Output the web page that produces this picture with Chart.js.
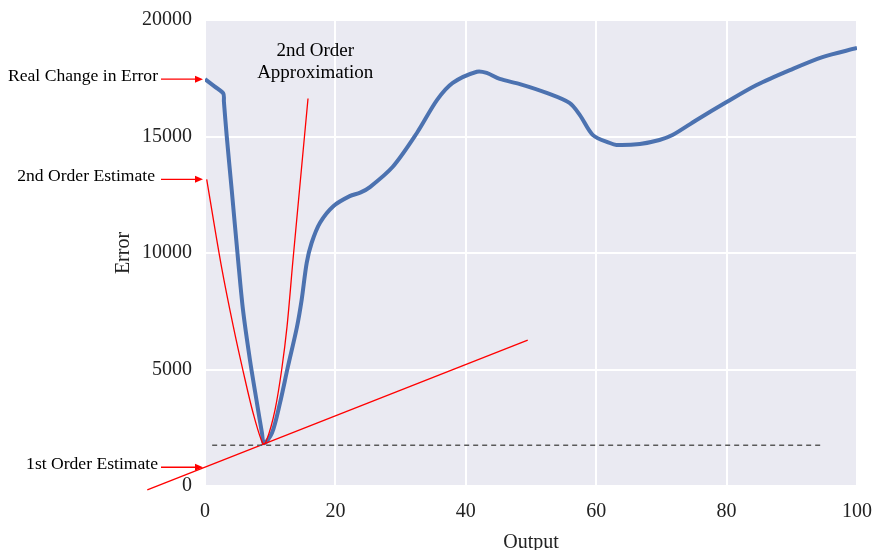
<!DOCTYPE html>
<html>
<head>
<meta charset="utf-8">
<script src="https://cdn.jsdelivr.net/npm/chart.js@4.4.1/dist/chart.umd.min.js"></script>
<style>
  html, body { margin: 0; padding: 0; background: #ffffff; }
  canvas { display: block; }
</style>
</head>
<body>
<canvas id="c" width="875" height="550"></canvas>
<script>
// ---- data ----
const realX   = [0, 1.4, 2.8, 2.9, 3.33, 4.09, 5.06, 5.83, 6.9, 7.97, 8.74, 9.05, 10.27, 11.5, 12.7, 14.1, 14.83, 15.6, 16.36, 17.64, 19.68, 22.2, 23.8, 25.3, 28.8, 32.5, 35.6, 38.0, 41.7, 43.2, 45.2, 48.3, 52.4, 55.9, 57.5, 59.5, 62.1, 63.1, 66.7, 69.7, 71.7, 75.4, 80, 84.6, 89.7, 94.7, 100];
const realErr = [17460, 17160, 16850, 16500, 15020, 12730, 9750, 7550, 5400, 3560, 2270, 1830, 2270, 3560, 5100, 6820, 8000, 9580, 10440, 11300, 12010, 12440, 12590, 12830, 13700, 15150, 16570, 17300, 17780, 17730, 17470, 17250, 16870, 16440, 15920, 15060, 14720, 14640, 14680, 14850, 15060, 15710, 16480, 17210, 17850, 18410, 18800];

const quadX   = [0.26, 2.56, 4.34, 5.87, 7.41, 8.85, 9.05, 9.46, 10.74, 11.76, 12.58, 13.5, 15.8];
const quadErr = [13160, 9360, 6850, 4900, 3100, 1840, 1800, 1980, 3270, 4990, 6840, 9720, 16630];

const linX    = [-8.85, 49.5];
const linErr  = [-170, 6260];

const baseX   = [1.1, 94.4];
const baseErr = [1750, 1750];

const xTicks = [0, 20, 40, 60, 80, 100];
const yTicks = [0, 5000, 10000, 15000, 20000];

const xTitle = 'Output';
const yTitle = 'Error';
const labelReal  = 'Real Change in Error';
const labelQuad  = '2nd Order Estimate';
const labelLin   = '1st Order Estimate';
const approxText = ['2nd Order', 'Approximation'];
const approxAt   = [16.9, 18200];

const pts = (xs, ys) => xs.map((x, i) => ({ x, y: ys[i] }));

const SERIF = "'Liberation Serif', 'Times New Roman', serif";

const bgPlugin = {
  id: 'bg',
  beforeDraw(chart) {
    const { ctx, chartArea: a } = chart;
    ctx.save();
    ctx.fillStyle = '#eaeaf2';
    ctx.fillRect(a.left, a.top, a.right - a.left, a.bottom - a.top);
    ctx.restore();
  }
};

function linAt(x) {
  const t = (x - linX[0]) / (linX[1] - linX[0]);
  return linErr[0] + t * (linErr[1] - linErr[0]);
}

const annPlugin = {
  id: 'ann',
  afterDraw(chart) {
    const { ctx, scales: { x, y } } = chart;
    const x0 = x.getPixelForValue(0);
    const arrows = [
      [labelReal, y.getPixelForValue(realErr[0]), 158],
      [labelQuad, y.getPixelForValue(quadErr[0]), 155],
      [labelLin, y.getPixelForValue(linAt(0)), 158]
    ];
    ctx.save();
    ctx.font = '17.6px ' + SERIF;
    ctx.textAlign = 'right';
    ctx.textBaseline = 'middle';
    for (const [txt, py, tx] of arrows) {
      ctx.fillStyle = '#000';
      ctx.fillText(txt, tx, py - 3);
      ctx.strokeStyle = '#ff0000';
      ctx.fillStyle = '#ff0000';
      ctx.lineWidth = 1.3;
      ctx.beginPath();
      ctx.moveTo(161, py);
      ctx.lineTo(x0 - 8, py);
      ctx.stroke();
      ctx.beginPath();
      ctx.moveTo(x0 - 2, py);
      ctx.lineTo(x0 - 10, py - 3.5);
      ctx.lineTo(x0 - 10, py + 3.5);
      ctx.closePath();
      ctx.fill();
    }
    ctx.font = '19px ' + SERIF;
    ctx.textAlign = 'center';
    ctx.fillStyle = '#000';
    const cx = x.getPixelForValue(approxAt[0]);
    const cy = y.getPixelForValue(approxAt[1]);
    ctx.fillText(approxText[0], cx, cy - 11);
    ctx.fillText(approxText[1], cx, cy + 11);
    ctx.restore();
  }
};

new Chart(document.getElementById('c'), {
  type: 'scatter',
  data: {
    datasets: [
      {
        data: pts(baseX, baseErr), showLine: true, borderColor: '#5a5a5a', borderWidth: 1.3,
        borderDash: [5, 4], pointRadius: 0, fill: false
      },
      {
        data: pts(linX, linErr), showLine: true, borderColor: '#ff0000', borderWidth: 1.3,
        pointRadius: 0, fill: false, clip: false
      },
      {
        data: pts(quadX, quadErr), showLine: true, borderColor: '#ff0000', borderWidth: 1.3,
        pointRadius: 0, fill: false, cubicInterpolationMode: 'monotone'
      },
      {
        data: pts(realX, realErr), showLine: true, borderColor: '#4c72b0', borderWidth: 4,
        pointRadius: 0, fill: false, tension: 0.3, borderJoinStyle: 'round'
      }
    ]
  },
  options: {
    responsive: false,
    animation: false,
    devicePixelRatio: 1,
    layout: { padding: { left: 0, right: 18, top: 20, bottom: 0 } },
    plugins: { legend: { display: false }, tooltip: { enabled: false } },
    scales: {
      x: {
        type: 'linear', min: 0, max: 100,
        afterBuildTicks: s => { s.ticks = xTicks.map(v => ({ value: v })); },
        afterFit: s => { s.height = 64; s.paddingLeft = 0; s.paddingRight = 0; },
        grid: { color: '#ffffff', lineWidth: 2, drawTicks: false },
        border: { display: false },
        ticks: { color: '#222', font: { family: SERIF, size: 20 }, padding: 14, callback: v => String(v), maxRotation: 0 },
        title: { display: true, text: xTitle, color: '#222', font: { family: SERIF, size: 20, lineHeight: 1 }, padding: { top: 0, bottom: -3 } }
      },
      y: {
        type: 'linear', min: 0, max: 20000,
        afterBuildTicks: s => { s.ticks = yTicks.map(v => ({ value: v })); },
        afterFit: s => { s.width = 205; s.paddingTop = 0; s.paddingBottom = 0; },
        grid: { color: '#ffffff', lineWidth: 2, drawTicks: false },
        border: { display: false },
        ticks: { color: '#222', font: { family: SERIF, size: 20 }, padding: 13, callback: v => String(v) },
        title: { display: true, text: yTitle, color: '#222', font: { family: SERIF, size: 20, lineHeight: 1 }, padding: { top: 114, bottom: 0 } }
      }
    }
  },
  plugins: [bgPlugin, annPlugin]
});
</script>
</body>
</html>
